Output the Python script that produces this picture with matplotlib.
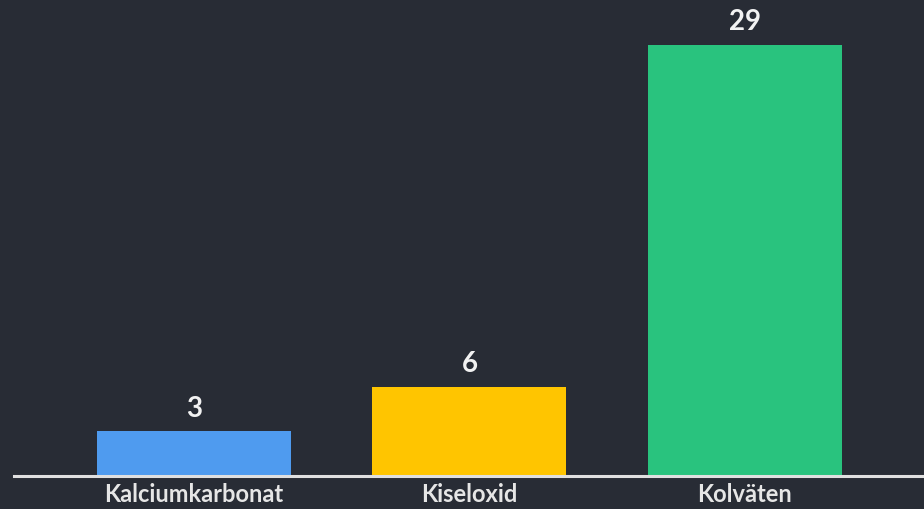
import matplotlib
matplotlib.use("Agg")
import matplotlib.pyplot as plt

categories = ["Kalciumkarbonat", "Kiseloxid", "Kolväten"]
values = [3, 6, 29]
colors = ["#4f9bef", "#ffc500", "#29c37e"]

bg = "#282c35"

fig = plt.figure(figsize=(9.24, 5.09), dpi=100, facecolor=bg)
ax = fig.add_axes([14 / 924, 33 / 509, 910 / 924, 476 / 509])
ax.set_facecolor(bg)

x = range(len(categories))
bars = ax.bar(x, values, width=0.704, color=colors, zorder=2)

for b, v in zip(bars, values):
    ax.annotate(str(v), (b.get_x() + b.get_width() / 2, v),
                xytext=(0, 7), textcoords="offset points",
                ha="center", va="bottom", color="#f2f2f2",
                fontsize=20, fontweight="bold", family="Lato")

ax.set_xlim(-0.653, 2.65)
ax.set_ylim(0, 32)
ax.set_xticks(list(x))
ax.set_xticklabels(categories, fontsize=17, fontweight="bold", family="Lato", color="#e6e6e6")
ax.tick_params(axis="x", length=0, pad=5)
ax.set_yticks([])

for s in ["top", "right", "left"]:
    ax.spines[s].set_visible(False)
ax.spines["bottom"].set_color("#e0e0e0")
ax.spines["bottom"].set_linewidth(2.2)
ax.spines["bottom"].set_zorder(3)

fig.savefig("out.png", dpi=100, facecolor=bg)
